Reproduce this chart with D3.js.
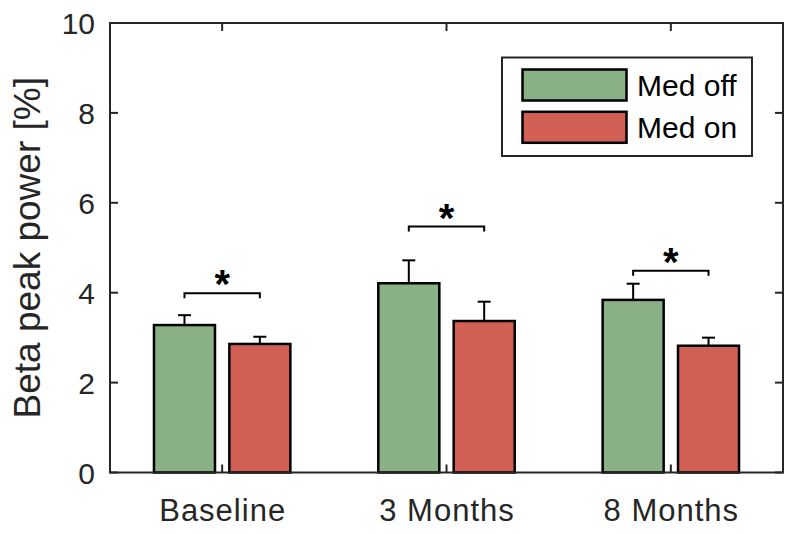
<!DOCTYPE html>
<html><head><meta charset="utf-8">
<script src="https://cdn.jsdelivr.net/npm/d3@7"></script>
<style>body{margin:0;background:#fff}svg{display:block}text{font-family:Arial,"Liberation Sans",Helvetica,sans-serif}</style>
</head><body><svg id="c" width="800" height="534"></svg>
<script>
const categories = ["Baseline", "3 Months", "8 Months"];
const seriesNames = ["Med off", "Med on"];
const medOff = [3.28, 4.21, 3.84];
const medOffErr = [0.22, 0.51, 0.36];
const medOn = [2.86, 3.37, 2.82];
const medOnErr = [0.16, 0.43, 0.18];
const bracketLevels = [3.99, 5.47, 4.49];
const yTicks = [0, 2, 4, 6, 8, 10];

const colors = ["#8ab086", "#d25f54"];
const axisColor = "#262626";
const svg = d3.select("#c");
const L = 110, R = 783, T = 23, B = 472.5;
const x = d3.scaleLinear().domain([0.5, 3.5]).range([L, R]);
const y = d3.scaleLinear().domain([0, 10]).range([B, T]);
const barW = 0.272, off = 0.168;
const tickLen = 8;

const series = [
  {name: seriesNames[0], vals: medOff, errs: medOffErr, dx: -off, color: colors[0]},
  {name: seriesNames[1], vals: medOn, errs: medOnErr, dx: off, color: colors[1]}
];

// error bars (behind bars)
series.forEach(s => {
  s.vals.forEach((v, i) => {
    const cx = x(i + 1 + s.dx);
    svg.append("line").attr("x1", cx).attr("x2", cx).attr("y1", y(v)).attr("y2", y(v + s.errs[i]))
      .attr("stroke", "#000").attr("stroke-width", 2);
    svg.append("line").attr("x1", cx - 6.5).attr("x2", cx + 6.5).attr("y1", y(v + s.errs[i])).attr("y2", y(v + s.errs[i]))
      .attr("stroke", "#000").attr("stroke-width", 2);
  });
});
// bars
series.forEach(s => {
  svg.selectAll(null).data(s.vals).enter().append("rect")
    .attr("x", (d, i) => x(i + 1 + s.dx - barW / 2))
    .attr("width", x(barW) - x(0))
    .attr("y", d => y(d))
    .attr("height", d => y(0) - y(d))
    .attr("fill", s.color).attr("stroke", "#000").attr("stroke-width", 2.5);
});
// significance brackets
bracketLevels.forEach((b, i) => {
  const x1 = x(i + 1 - off), x2 = x(i + 1 + off), yy = y(b);
  svg.append("path").attr("d", `M${x1},${yy + 5}V${yy}H${x2}V${yy + 5}`)
    .attr("fill", "none").attr("stroke", "#000").attr("stroke-width", 2);
  svg.append("text").attr("x", (x1 + x2) / 2).attr("y", yy + 5).attr("text-anchor", "middle")
    .attr("font-size", 40).attr("font-weight", "bold").text("*");
});

// axes box
svg.append("rect").attr("x", L).attr("y", T).attr("width", R - L).attr("height", B - T)
  .attr("fill", "none").attr("stroke", axisColor).attr("stroke-width", 2);
// y ticks
yTicks.forEach(t => {
  svg.append("line").attr("x1", L).attr("x2", L + tickLen).attr("y1", y(t)).attr("y2", y(t)).attr("stroke", axisColor).attr("stroke-width", 2);
  svg.append("line").attr("x1", R).attr("x2", R - tickLen).attr("y1", y(t)).attr("y2", y(t)).attr("stroke", axisColor).attr("stroke-width", 2);
  svg.append("text").attr("x", L - 15).attr("y", y(t) + 11).attr("text-anchor", "end")
    .attr("font-size", 30).attr("fill", axisColor).text(t);
});
// x ticks
categories.forEach((c, i) => {
  const cx = x(i + 1);
  svg.append("line").attr("x1", cx).attr("x2", cx).attr("y1", B).attr("y2", B - tickLen).attr("stroke", axisColor).attr("stroke-width", 2);
  svg.append("line").attr("x1", cx).attr("x2", cx).attr("y1", T).attr("y2", T + tickLen).attr("stroke", axisColor).attr("stroke-width", 2);
  svg.append("text").attr("x", cx + 0.5).attr("y", 521).attr("text-anchor", "middle")
    .attr("font-size", 31).attr("letter-spacing", 1).attr("fill", axisColor).text(c);
});
// y label
svg.append("text").attr("transform", `translate(40,${(T + B) / 2}) rotate(-90)`)
  .attr("text-anchor", "middle").attr("font-size", 37).attr("fill", axisColor).text("Beta peak power [%]");

// legend
const lg = svg.append("g");
lg.append("rect").attr("x", 502).attr("y", 57.5).attr("width", 250).attr("height", 98.5)
  .attr("fill", "#fff").attr("stroke", axisColor).attr("stroke-width", 2);
series.forEach((s, i) => {
  const yy = 69.5 + i * 42.3;
  lg.append("rect").attr("x", 522.5).attr("y", yy).attr("width", 104).attr("height", 31)
    .attr("fill", s.color).attr("stroke", "#000").attr("stroke-width", 2.5);
  lg.append("text").attr("x", 637).attr("y", yy + 26.5).attr("font-size", 30).attr("fill", "#000").text(s.name);
});
</script></body></html>
